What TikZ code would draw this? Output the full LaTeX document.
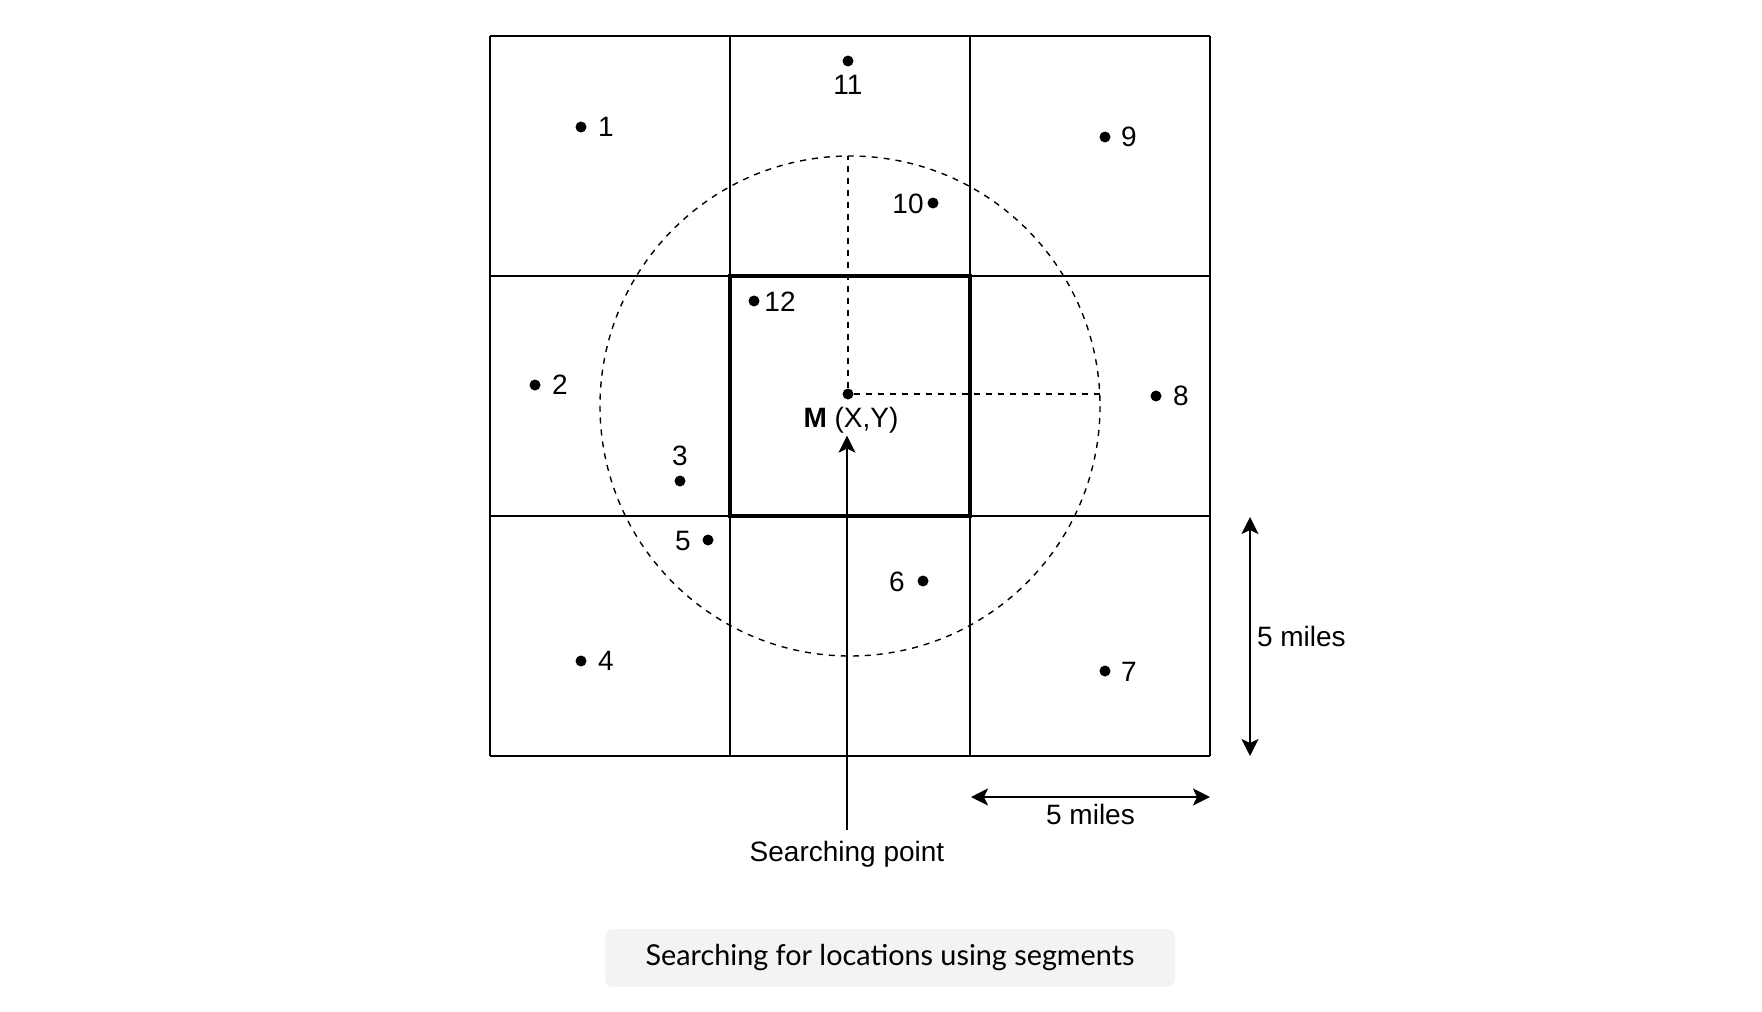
\documentclass[tikz,border=0pt]{standalone}
\usepackage{fontspec}
\setmainfont{Liberation Sans}
\newfontfamily\capfont{Lato}
\usetikzlibrary{arrows.meta}
\definecolor{capgray}{RGB}{243,243,243}

\begin{document}
\begin{tikzpicture}
[x=0.5pt,y=-0.5pt,->,>={Stealth[length=8.5pt,width=8.5pt,inset=2pt]},semithick,font=\fontsize{14}{16}\selectfont]
\tikzstyle{loc}=[circle,fill=black,inner sep=0pt,minimum size=5.5pt]
\tikzstyle{num}=[inner sep=1pt]
\tikzstyle{cell}=[-,draw=black,line width=1pt]
\tikzstyle{rline}=[-,dashed,dash pattern=on 3pt off 3pt,line width=0.7pt]
\useasboundingbox (0,0) rectangle (1762,1012);

% segments
\foreach \k in {0,1,2,3} {
  \draw[cell] (490+240*\k,36) -- (490+240*\k,756);
  \draw[cell] (490,36+240*\k) -- (1210,36+240*\k);
}
\draw[cell,line width=2pt] (730,276) rectangle (970,516);

% search radius
\draw[rline] (850,406) circle (250);
\node[loc] (m) at (848,394) {};
\coordinate (top) at (848,156);
\coordinate (rgt) at (1100,394);
\path (m) edge[rline] (top)
      (m) edge[rline] (rgt);
\node[num] (ml) at (851,420) {\textbf{M} (X,Y)};

% locations
\node[loc] (p1) at (581,127) {};   \node[num] (n1) at (606,127) {1};
\node[loc] (p2) at (535,385) {};   \node[num] (n2) at (560,385) {2};
\node[loc] (p3) at (680,481) {};   \node[num] (n3) at (680,456) {3};
\node[loc] (p4) at (581,661) {};   \node[num] (n4) at (606,661) {4};
\node[loc] (p5) at (708,540) {};   \node[num] (n5) at (683,541) {5};
\node[loc] (p6) at (923,581) {};   \node[num] (n6) at (897,582) {6};
\node[loc] (p7) at (1105,671) {};  \node[num] (n7) at (1129,672) {7};
\node[loc] (p8) at (1156,396) {};  \node[num] (n8) at (1181,396) {8};
\node[loc] (p9) at (1105,137) {};  \node[num] (n9) at (1129,137) {9};
\node[loc] (p10) at (933,203) {};  \node[num] (n10) at (908,204) {10};
\node[loc] (p11) at (848,61) {};   \node[num] (n11) at (848,85) {11};
\node[loc] (p12) at (754,301) {};  \node[num] (n12) at (780,302) {12};

% searching point
\node[num] (sp) at (847,854) {Searching point};
\draw[line width=0.8pt,shorten <=4pt] (sp.north) -- (sp.north |- ml.south);

% scale
\coordinate (v1) at (1250,517);
\coordinate (v2) at (1250,756);
\coordinate (h1) at (971,797);
\coordinate (h2) at (1210,797);
\draw[<->,line width=1pt] (v1) -- (v2) node[midway,right=2pt,num] (vl) {5 miles};
\draw[<->,line width=1pt] (h1) -- (h2) node[midway,below=2pt,num] (hl) {5 miles};

% caption
\node[fill=capgray,rounded corners=4pt,minimum width=285pt,minimum height=29pt,
  font=\capfont\fontsize{14.4}{16}\selectfont] (cap) at (890,958)
  {\raisebox{-1.5pt}{Searching for locations using segments}};
\end{tikzpicture}
\end{document}
